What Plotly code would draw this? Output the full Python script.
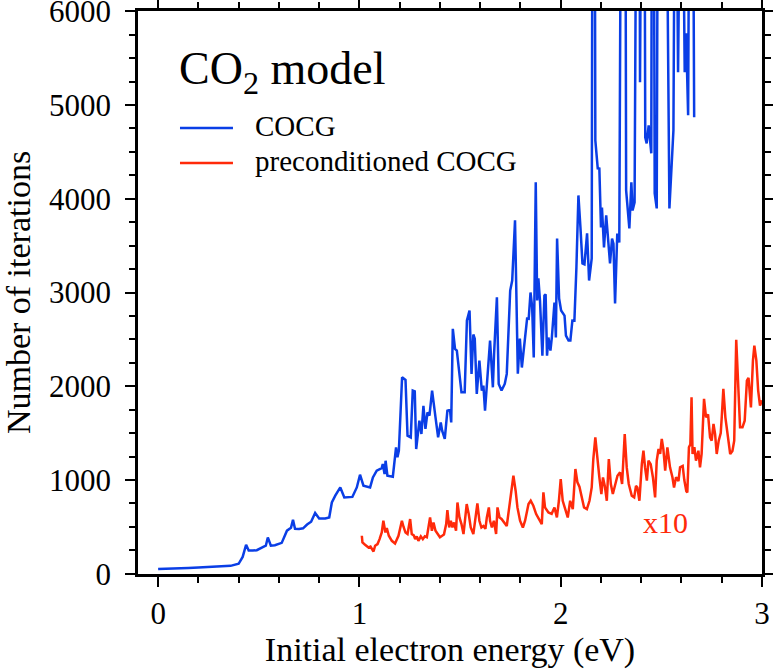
import plotly.graph_objects as go

# ---------------- data ----------------
cocg_energy = [
    0.00, 0.05, 0.10, 0.15, 0.20, 0.25, 0.30, 0.36, 0.40, 0.42,
    0.437, 0.45, 0.47, 0.49, 0.52, 0.535, 0.545, 0.56, 0.58, 0.60,
    0.614, 0.64, 0.66, 0.67, 0.68, 0.70, 0.72, 0.74, 0.76, 0.78,
    0.80, 0.83, 0.85, 0.863, 0.88, 0.905, 0.925, 0.965, 0.987, 1.003,
    1.02, 1.053, 1.067, 1.086, 1.111, 1.116, 1.125, 1.13, 1.139, 1.166,
    1.182, 1.189, 1.196, 1.212, 1.229, 1.239, 1.255, 1.265, 1.275, 1.282,
    1.298, 1.308, 1.318, 1.328, 1.338, 1.348, 1.361, 1.378, 1.391, 1.404,
    1.411, 1.424, 1.437, 1.45, 1.456, 1.464, 1.475, 1.484, 1.494, 1.507,
    1.523, 1.534, 1.547, 1.557, 1.566, 1.573, 1.583, 1.596, 1.608, 1.616,
    1.624, 1.633, 1.649, 1.663, 1.669, 1.683, 1.692, 1.706, 1.722, 1.732,
    1.749, 1.759, 1.773, 1.787, 1.797, 1.807, 1.82, 1.833, 1.841, 1.85,
    1.858, 1.866, 1.876, 1.883, 1.889, 1.897, 1.909, 1.919, 1.925, 1.932,
    1.939, 1.949, 1.956, 1.969, 1.976, 1.982, 1.992, 2.002, 2.019, 2.026,
    2.039, 2.048, 2.058, 2.068, 2.078, 2.088, 2.098, 2.108, 2.118, 2.131,
    2.141, 2.154, 2.163, 2.172, 2.184, 2.192, 2.2, 2.205, 2.215, 2.226,
    2.245, 2.255, 2.262, 2.27, 2.281, 2.291, 2.314, 2.325, 2.341, 2.351,
    2.357, 2.367, 2.386, 2.394, 2.411, 2.42, 2.427, 2.437, 2.45, 2.457,
    2.467, 2.477, 2.485, 2.52, 2.54, 2.56, 2.57, 2.583, 2.600, 2.616,
    2.623, 2.633, 2.648, 2.663,
]
cocg_iters = [
    50, 52, 56, 62, 68, 72, 78, 85, 107, 180,
    310, 248, 248, 252, 285, 300, 388, 300, 305, 315,
    330, 460, 490, 576, 480, 478, 485, 525, 555, 648,
    590, 590, 600, 761, 833, 921, 815, 820, 921, 1057,
    940, 921, 1028, 1100, 1128, 1171, 1064, 1206, 1046, 1036,
    1349, 1242, 1313, 2096, 2068, 1473, 1455, 1954, 1946, 1331,
    1633, 1491, 1790, 1545, 1722, 1687, 1954, 1669, 1455, 1615,
    1527, 1438, 1740, 1748, 1615, 2612, 2399, 2381, 2167, 1936,
    1936, 2701, 2808, 2132, 2552, 2506, 1918, 2274, 1954, 2007,
    1740, 1989, 2487, 1989, 2345, 2950, 2025, 1954, 2025, 2132,
    3021, 3128, 3769, 2135, 2509, 2200, 2455, 2722, 2720, 3000,
    2850, 2306, 4175, 2915, 3150, 2915, 2327, 2968, 2980, 2327,
    2520, 2381, 2520, 2893, 2520, 3576, 2936, 2808, 2754, 2541,
    2487, 2487, 2701, 2700, 3267, 4035, 3694, 3310, 3300, 3630,
    3128, 3363, 14000, 4622, 4324, 4321, 3694, 3907, 3480, 3822,
    3310, 3576, 3520, 2882, 3630, 3534, 15000, 4089, 3683, 4175,
    3875, 3961, 12000, 5242, 12000, 4655, 4590, 4783, 4484, 12000,
    4057, 3897, 9500, 9000, 3897, 4730, 9000, 5350, 9000, 5350,
    5765, 4890, 12000, 4868,
]

# preconditioned COCG, plotted multiplied by 10 (values below are already x10)
pcocg_energy = [
    1.012, 1.015, 1.028, 1.045, 1.055, 1.07, 1.078, 1.09, 1.10, 1.111,
    1.119, 1.129, 1.136, 1.146, 1.161, 1.177, 1.194, 1.202, 1.211, 1.219,
    1.229, 1.239, 1.252, 1.26, 1.27, 1.277, 1.285, 1.293, 1.305, 1.315,
    1.325, 1.335, 1.345, 1.351, 1.36, 1.368, 1.378, 1.388, 1.40, 1.411,
    1.42, 1.431, 1.437, 1.446, 1.454, 1.462, 1.47, 1.48, 1.487, 1.497,
    1.507, 1.517, 1.527, 1.533, 1.543, 1.553, 1.566, 1.58, 1.586, 1.596,
    1.606, 1.616, 1.626, 1.633, 1.643, 1.649, 1.658, 1.668, 1.679, 1.686,
    1.696, 1.706, 1.72, 1.732, 1.742, 1.752, 1.765, 1.776, 1.785, 1.798,
    1.812, 1.823, 1.84, 1.851, 1.864, 1.878, 1.894, 1.906, 1.914, 1.922,
    1.939, 1.955, 1.969, 1.981, 1.991, 2.0, 2.01, 2.022, 2.035, 2.047,
    2.06, 2.073, 2.083, 2.093, 2.105, 2.116, 2.13, 2.143, 2.154, 2.162,
    2.172, 2.182, 2.192, 2.202, 2.21, 2.219, 2.229, 2.239, 2.249, 2.259,
    2.272, 2.282, 2.295, 2.305, 2.318, 2.328, 2.338, 2.353, 2.365, 2.374,
    2.381, 2.391, 2.403, 2.411, 2.419, 2.428, 2.436, 2.447, 2.458, 2.469,
    2.477, 2.486, 2.494, 2.502, 2.51, 2.519, 2.53, 2.543, 2.555, 2.563,
    2.573, 2.585, 2.593, 2.606, 2.614, 2.624, 2.629, 2.637, 2.644, 2.65,
    2.655, 2.664, 2.672, 2.684, 2.692, 2.70, 2.712, 2.722, 2.732, 2.742,
    2.75, 2.759, 2.767, 2.775, 2.785, 2.795, 2.80, 2.808, 2.818, 2.828,
    2.842, 2.853, 2.862, 2.872, 2.881, 2.891, 2.903, 2.914, 2.925, 2.933,
    2.945, 2.955, 2.962, 2.972, 2.981, 2.99, 3.0,
]
pcocg_iters_x10 = [
    406, 334, 310, 281, 290, 238, 299, 317, 370, 441,
    566, 441, 488, 406, 352, 324, 406, 477, 566, 502,
    440, 424, 584, 424, 410, 370, 400, 352, 400, 370,
    400, 390, 530, 601, 459, 548, 459, 424, 390, 406,
    420, 530, 680, 494, 566, 494, 548, 459, 761, 601,
    530, 424, 601, 744, 637, 494, 424, 619, 751, 566,
    494, 510, 480, 601, 708, 566, 494, 566, 424, 708,
    601, 585, 550, 510, 673, 850, 1046, 886, 708, 566,
    494, 566, 744, 779, 726, 637, 584, 530, 868, 708,
    654, 640, 708, 601, 779, 1011, 779, 690, 601, 779,
    690, 1118, 975, 930, 815, 708, 690, 779, 921, 1224,
    1455, 1206, 1028, 851, 1028, 937, 779, 1224, 958, 851,
    958, 1046, 1082, 958, 1491, 1135, 958, 833, 815, 937,
    921, 779, 1171, 1313, 1135, 993, 1206, 1170, 1030, 815,
    1206, 1331, 1280, 1438, 1330, 1100, 1349, 1135, 1030, 921,
    1030, 990, 1135, 1150, 1000, 880, 868, 1349, 1380, 1882,
    1278, 1350, 1206, 1313, 1135, 1280, 1865, 1669, 1700, 1455,
    1420, 1598, 1490, 1278, 1420, 1500, 1669, 1972, 1669, 1490,
    1278, 1310, 1420, 2495, 2025, 1562, 1562, 1633, 2060, 2090,
    1775, 2274, 2434, 2274, 1954, 1793, 1850,
]

x_tick_vals = [0, 1, 2, 3]
y_tick_vals = [0, 1000, 2000, 3000, 4000, 5000, 6000]

BLUE = "#0a3ee6"
RED = "#ff2a0a"
FONT = "Liberation Serif, Times New Roman, serif"

fig = go.Figure()
fig.add_trace(go.Scatter(x=cocg_energy, y=cocg_iters, mode="lines",
                         line=dict(color=BLUE, width=2.5), name="COCG",
                         showlegend=False))
fig.add_trace(go.Scatter(x=pcocg_energy, y=pcocg_iters_x10, mode="lines",
                         line=dict(color=RED, width=2.5),
                         name="preconditioned COCG", showlegend=False))

axis_common = dict(
    showline=True, linecolor="black", linewidth=2.5, mirror="allticks",
    ticks="outside", ticklen=10, tickwidth=2, tickcolor="black",
    showgrid=False, zeroline=False, ticklabeloverflow="allow",
    tickfont=dict(family=FONT, size=31, color="black"),
)

fig.update_xaxes(
    range=[-0.1, 3.0], tickvals=x_tick_vals,
    minor=dict(dtick=0.2, tick0=0, ticks="outside", ticklen=6, tickwidth=2,
               tickcolor="black", showgrid=False),
    title=dict(text="Initial electron energy (eV)",
               font=dict(family=FONT, size=34, color="black"), standoff=8),
    **axis_common,
)
fig.update_yaxes(
    range=[-2, 6002], tickvals=y_tick_vals,
    ticklabelstandoff=8,
    minor=dict(dtick=250, tick0=0, ticks="outside", ticklen=6, tickwidth=2,
               tickcolor="black", showgrid=False),
    title=dict(text="Number of iterations",
               font=dict(family=FONT, size=34, color="black"), standoff=20),
    **axis_common,
)

# legend drawn by hand to match the reference layout
fig.add_shape(type="line", xref="paper", yref="paper", x0=0.0673, x1=0.1522,
              y0=0.792, y1=0.792, line=dict(color=BLUE, width=2.5))
fig.add_shape(type="line", xref="paper", yref="paper", x0=0.0673, x1=0.1522,
              y0=0.730, y1=0.730, line=dict(color=RED, width=2.5))
fig.add_annotation(text="CO<sub>2</sub> model", xref="paper", yref="paper",
                   x=0.062, y=0.892, xanchor="left", yanchor="middle",
                   showarrow=False, font=dict(family=FONT, size=46, color="black"))
fig.add_annotation(text="COCG", xref="paper", yref="paper",
                   x=0.185, y=0.795, xanchor="left", yanchor="middle",
                   showarrow=False, font=dict(family=FONT, size=29, color="black"))
fig.add_annotation(text="preconditioned COCG", xref="paper", yref="paper",
                   x=0.185, y=0.733, xanchor="left", yanchor="middle",
                   showarrow=False, font=dict(family=FONT, size=29, color="black"))
fig.add_annotation(text="x10", xref="paper", yref="paper",
                   x=0.845, y=0.092, xanchor="center", yanchor="middle",
                   showarrow=False, font=dict(family=FONT, size=30, color=RED))

fig.update_layout(
    width=773, height=669,
    margin=dict(l=138, r=11, t=11, b=95, autoexpand=False),
    plot_bgcolor="white", paper_bgcolor="white",
    font=dict(family=FONT, color="black"),
)

fig.write_html("out.html")
